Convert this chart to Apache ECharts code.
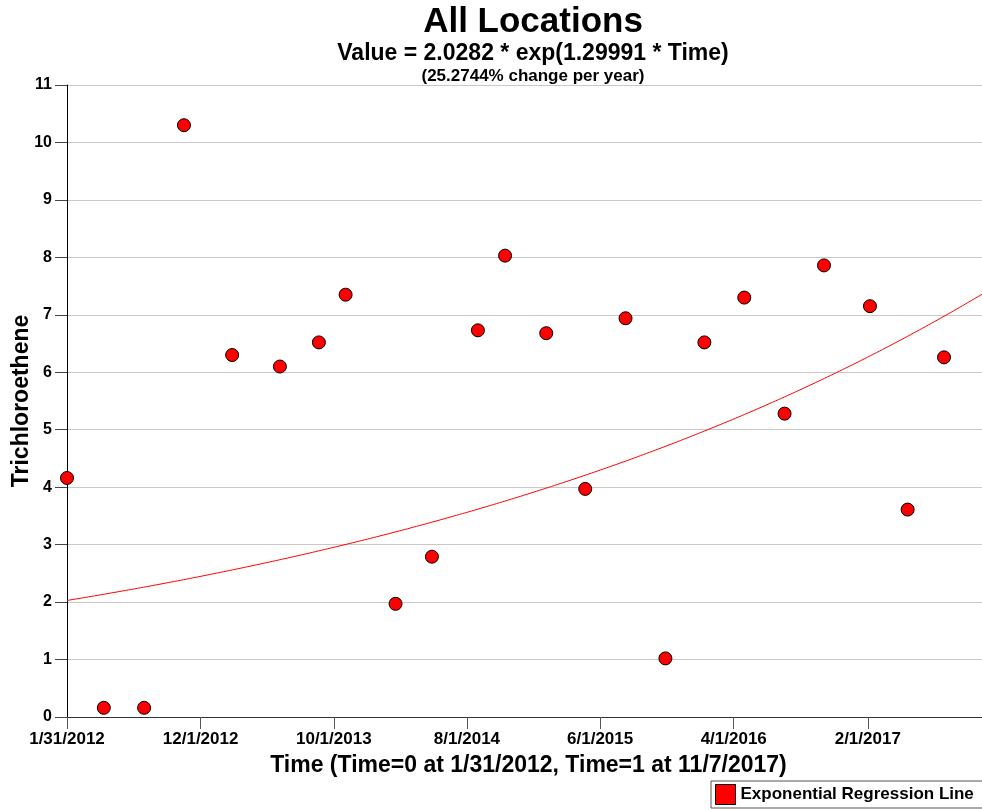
<!DOCTYPE html>
<html>
<head>
<meta charset="utf-8">
<title>All Locations - Trichloroethene</title>
<script src="https://cdn.jsdelivr.net/npm/echarts@6/dist/echarts.min.js"></script>
<style>
  html, body { margin: 0; padding: 0; background: #ffffff; }
  #chart { width: 982px; height: 809px; }
</style>
</head>
<body>
<div id="chart"></div>
<script>
// Sampling dates and measured concentrations
const sampleDates = [
  '2012-01-31', '2012-04-24', '2012-07-25', '2012-10-24', '2013-02-11', '2013-05-31',
  '2013-08-28', '2013-10-28', '2014-02-19', '2014-05-13', '2014-08-26', '2014-10-27',
  '2015-01-29', '2015-04-28', '2015-07-29', '2015-10-28', '2016-01-25', '2016-04-25',
  '2016-07-26', '2016-10-24', '2017-02-06', '2017-05-03', '2017-07-25'
];
const tceValues = [
  4.16, 0.16, 0.16, 10.30, 6.30, 6.10,
  6.52, 7.35, 1.97, 2.79, 6.73, 8.03,
  6.68, 3.97, 6.94, 1.02, 6.52, 7.30,
  5.28, 7.86, 7.15, 3.61, 6.26
];

// Time scale: Time=0 at the start date, Time=1 at the end date
const timeStart = '2012-01-31';
const timeEnd = '2017-11-07';

// Fitted exponential model: Value = a * exp(b * Time)
const fitA = 2.0282;
const fitB = 1.29991;

// Tick dates and their labels on the time axis
const tickDates = ['2012-01-31', '2012-12-01', '2013-10-01', '2014-08-01', '2015-06-01', '2016-04-01', '2017-02-01'];
const tickLabels = ['1/31/2012', '12/1/2012', '10/1/2013', '8/1/2014', '6/1/2015', '4/1/2016', '2/1/2017'];

const DAY = 86400000;
function toDays(s) {
  const p = s.split('-').map(Number);
  const t0 = timeStart.split('-').map(Number);
  return Math.round((Date.UTC(p[0], p[1] - 1, p[2]) - Date.UTC(t0[0], t0[1] - 1, t0[2])) / DAY);
}
const spanDays = toDays(timeEnd);
const tickDays = tickDates.map(toDays);

const scatterData = sampleDates.map((d, i) => [toDays(d), tceValues[i]]);

// Regression curve evaluated along the time axis
const curveData = [];
for (let d = 0; d <= spanDays; d += 7) {
  curveData.push([d, fitA * Math.exp(fitB * d / spanDays)]);
}
curveData.push([spanDays, fitA * Math.exp(fitB)]);

const FONT = '"Liberation Sans", Arial, sans-serif';
const chart = echarts.init(document.getElementById('chart'), null, { renderer: 'canvas' });

chart.setOption({
  animation: false,
  backgroundColor: '#ffffff',
  title: [
    {
      text: 'All Locations',
      left: 528, top: 0, textAlign: 'center',
      textStyle: { fontFamily: FONT, fontWeight: 'bold', fontSize: 35, color: '#000' }
    },
    {
      text: 'Value = ' + fitA + ' * exp(' + fitB + ' * Time)',
      left: 528, top: 37, textAlign: 'center',
      textStyle: { fontFamily: FONT, fontWeight: 'bold', fontSize: 23, color: '#000' }
    },
    {
      text: '(25.2744% change per year)',
      left: 528, top: 63, textAlign: 'center',
      textStyle: { fontFamily: FONT, fontWeight: 'bold', fontSize: 17, color: '#000' }
    }
  ],
  legend: {
    data: [{ name: 'Exponential Regression Line', icon: 'rect' }],
    left: 711, top: 781,
    itemWidth: 20, itemHeight: 20,
    padding: [3, 12, 3, 4],
    itemGap: 5,
    borderColor: '#555', borderWidth: 1,
    itemStyle: { color: '#ff0000', borderColor: '#000', borderWidth: 1 },
    textStyle: { fontFamily: FONT, fontWeight: 'bold', fontSize: 17, color: '#000' },
    selectedMode: false
  },
  grid: { left: 67, right: -8, top: 85, bottom: 92, containLabel: false, outerBoundsMode: 'none' },
  xAxis: [
    {
      type: 'value',
      min: 0, max: spanDays,
      position: 'bottom',
      name: 'Time (Time=0 at 1/31/2012, Time=1 at 11/7/2017)',
      nameLocation: 'middle',
      nameGap: 37,
      nameMoveOverlap: false,
      nameTextStyle: { fontFamily: FONT, fontWeight: 'bold', fontSize: 23, color: '#000' },
      axisLine: { show: true, onZero: false, lineStyle: { color: '#333', width: 1 } },
      axisTick: { show: true, length: 12, customValues: tickDays, lineStyle: { color: '#555', width: 1 } },
      axisLabel: {
        customValues: tickDays,
        margin: 14,
        fontFamily: FONT, fontWeight: 'bold', fontSize: 17, color: '#000',
        formatter: function (v) {
          const i = tickDays.indexOf(Math.round(v));
          return i >= 0 ? tickLabels[i] : '';
        }
      },
      splitLine: { show: false }
    },
    {
      type: 'value',
      min: 0, max: spanDays,
      position: 'top',
      axisLine: { show: true, lineStyle: { color: '#333', width: 1 } },
      axisTick: { show: false },
      axisLabel: { show: false },
      splitLine: { show: false }
    }
  ],
  yAxis: {
    type: 'value',
    min: 0, max: 11, interval: 1,
    name: 'Trichloroethene',
    nameLocation: 'middle',
    nameGap: 34,
    nameMoveOverlap: false,
    nameRotate: 90,
    nameTextStyle: { fontFamily: FONT, fontWeight: 'bold', fontSize: 23, color: '#000' },
    axisLine: { show: true, lineStyle: { color: '#000', width: 1 } },
    axisTick: { show: true, length: 12, lineStyle: { color: '#444', width: 1 } },
    axisLabel: { margin: 15, fontFamily: FONT, fontWeight: 'bold', fontSize: 16, color: '#000' },
    splitLine: { show: true, lineStyle: { color: '#c8c8c8', width: 1 } }
  },
  series: [
    {
      name: 'Exponential Regression Line',
      type: 'line',
      data: curveData,
      showSymbol: false,
      symbol: 'none',
      smooth: false,
      clip: true,
      lineStyle: { color: '#ff0000', width: 1 },
      itemStyle: { color: '#ff0000' },
      z: 2
    },
    {
      name: 'Trichloroethene',
      type: 'scatter',
      data: scatterData,
      symbol: 'circle',
      symbolSize: 13,
      clip: false,
      itemStyle: { color: '#ff0000', borderColor: '#000', borderWidth: 1, opacity: 1 },
      z: 3
    }
  ]
});
</script>
</body>
</html>
